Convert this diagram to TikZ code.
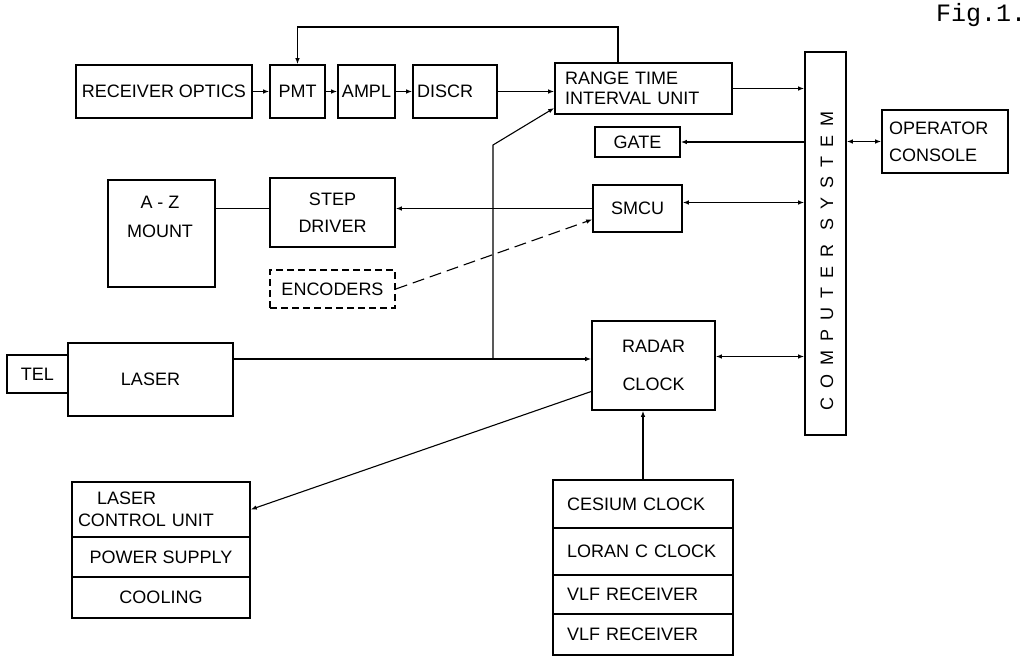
\documentclass[tikz,border=0pt]{standalone}
\usepackage{fontspec}
\setmainfont{Liberation Sans}
\newfontfamily\figfont{Liberation Mono}
\usetikzlibrary{arrows.meta}
\begin{document}
\begin{tikzpicture}[x=1pt,y=-1pt,
  lbl/.style={font=\fontsize{18}{20}\selectfont, align=center, inner sep=0pt},
  box/.style={lbl, draw, line width=1.6pt, rectangle},
  stack/.style={box, minimum width=180, text width=152, inner xsep=14, align=left},
  lstack/.style={box, minimum width=178},
  conn/.style={line width=1.1pt},
  arr/.style={conn,-{Latex[length=6pt,width=4.5pt]}},
  darr/.style={conn,{Latex[length=6pt,width=4.5pt]}-{Latex[length=6pt,width=4.5pt]}}]
\useasboundingbox (0,0) rectangle (1032,663);

\node[font=\figfont\fontsize{25}{28}\selectfont, inner sep=0pt] (fig) at (981,15) {Fig.1.};

% top row
\node[box, minimum width=176, minimum height=53] (ro) at (164,91.5) {RECEIVER OPTICS};
\node[box, minimum width=55, minimum height=53] (pmt) at (297.5,91.5) {PMT};
\node[box, minimum width=57, minimum height=53] (ampl) at (366.5,91.5) {AMPL};
\node[box, minimum width=84, minimum height=53, text width=76, inner xsep=4, align=left] (discr) at (455,91.5) {DISCR};
\node[box, minimum width=177, minimum height=51, text width=157, inner xsep=10, align=left] (rtiu) at (643.5,88.5) {RANGE TIME\\INTERVAL UNIT};

% computer
\node[box, minimum width=41, minimum height=383] (comp) at (825.5,243.5) {};
\node[lbl, rotate=90, font=\fontsize{18}{20}\selectfont\addfontfeature{LetterSpace=50}] (comptxt) at (827,261) {COMPUTER SYSTEM};

\node[box, minimum width=85, minimum height=30] (gate) at (637.5,142) {GATE};
\node[box, minimum width=126, minimum height=63, text width=112, inner xsep=7, align=left] (opcon) at (945,141.5) {OPERATOR\\[7pt]CONSOLE};
\node[box, minimum width=89, minimum height=47] (smcu) at (637.5,208.5) {SMCU};
\node[box, minimum width=125, minimum height=69] (step) at (332.5,212.5) {STEP\\[7pt]DRIVER};
\node[box, minimum width=107, minimum height=107] (mount) at (161.5,233.5) {};
\node[lbl] (mounttxt) at (160,217) {A - Z\\[9pt]MOUNT};
\node[box, dash pattern=on 7pt off 4pt, minimum width=125, minimum height=38] (enc) at (332.5,289) {ENCODERS};

\node[box, minimum width=61, minimum height=38] (tel) at (37.5,374) {TEL};
\node[box, minimum width=165, minimum height=73] (laser) at (150.5,379.5) {LASER};
\node[box, minimum width=123, minimum height=89] (radar) at (653.5,365.5) {RADAR\\[18pt]CLOCK};

% laser control stack
\node[lstack, minimum height=55, text width=166, inner xsep=6, align=left] (lcu) at (161,509.5) {\hspace*{19pt}LASER\\[2pt]CONTROL UNIT};
\node[lstack, minimum height=40] (pwr) at (161,557) {POWER SUPPLY};
\node[lstack, minimum height=41] (cool) at (161,597.5) {COOLING};

% clock stack
\node[stack, minimum height=48] (ces) at (643,504) {CESIUM CLOCK};
\node[stack, minimum height=47] (loran) at (643,551.5) {LORAN C CLOCK};
\node[stack, minimum height=39] (vlf1) at (643,594.5) {VLF RECEIVER};
\node[stack, minimum height=41] (vlf2) at (643,634.5) {VLF RECEIVER};

% connectors
\draw[arr] (ro.east) -- (pmt.west);
\draw[arr] (pmt.east) -- (ampl.west);
\draw[arr] (ampl.east) -- (discr.west);
\draw[arr] (discr.east) -- (discr.east -| rtiu.west);
\coordinate (fbtop) at (618,27);
\draw[arr] (fbtop |- rtiu.north) -- (fbtop) -- (fbtop -| pmt.north) -- (pmt.north);
\draw[arr] (rtiu.east) -- (rtiu.east -| comp.west);
\draw[arr] (gate.east -| comp.west) -- (gate.east);
\draw[darr] (comp.east |- opcon.west) -- (opcon.west);
\draw[darr] ([yshift=6pt]smcu.east -| comp.west) -- ([yshift=6pt]smcu.east);
\draw[arr] (smcu.west) -- (smcu.west -| step.east);
\draw[conn] (mount.east |- smcu.west) -- (step.west |- smcu.west);
\draw[arr, dash pattern=on 12pt off 6pt] (enc.east) -- ([yshift=-11pt]smcu.west);
\coordinate (j) at (493,359);
\coordinate (bend) at (493,145);
\draw[arr] (laser.east |- j) -- (j -| radar.west);
\draw[arr] (j) -- (bend) -- ([yshift=-19.5pt]rtiu.west);
\draw[darr] ([yshift=9pt]radar.east) -- ([yshift=9pt]radar.east -| comp.west);
\draw[arr] (ces.north) -- (ces.north |- radar.south);
\draw[arr] ([yshift=-26pt]radar.west) -- (lcu.east);
\end{tikzpicture}
\end{document}
